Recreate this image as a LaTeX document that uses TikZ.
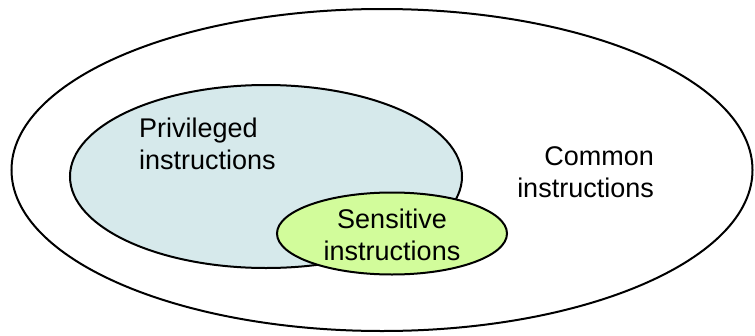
\documentclass[tikz,border=0pt]{standalone}
\usepackage{fontspec}
\setmainfont{Liberation Sans}
\usetikzlibrary{shapes.geometric}
\definecolor{privfill}{RGB}{214,233,235}
\definecolor{sensfill}{RGB}{210,252,155}
\begin{document}
\begin{tikzpicture}[x=1pt,y=-1pt,
  setshape/.style={ellipse,draw=black,line width=2pt,inner sep=0pt},
  label/.style={inner sep=0pt,font=\fontsize{27}{32}\selectfont}]
\useasboundingbox (0,0) rectangle (755,335);
% outer set: all instructions
\node[setshape,fill=white,minimum width=741pt,minimum height=322pt] (common) at (382,170) {};
% privileged subset
\node[setshape,fill=privfill,minimum width=392pt,minimum height=183pt] (priv) at (266,176.5) {};
% sensitive subset, overlapping the privileged one
\node[setshape,fill=sensfill,minimum width=230pt,minimum height=82pt] (sens) at (392,233.5) {};
% labels
\node[label,align=left,anchor=north west] (privlbl) at (139,117.5) {Privileged\\instructions};
\node[label,align=right,anchor=north east] (commonlbl) at (654,146.5) {Common\\instructions};
\node[label,align=center,anchor=north] (senslbl) at (392,208.3) {Sensitive\\instructions};
\end{tikzpicture}
\end{document}
